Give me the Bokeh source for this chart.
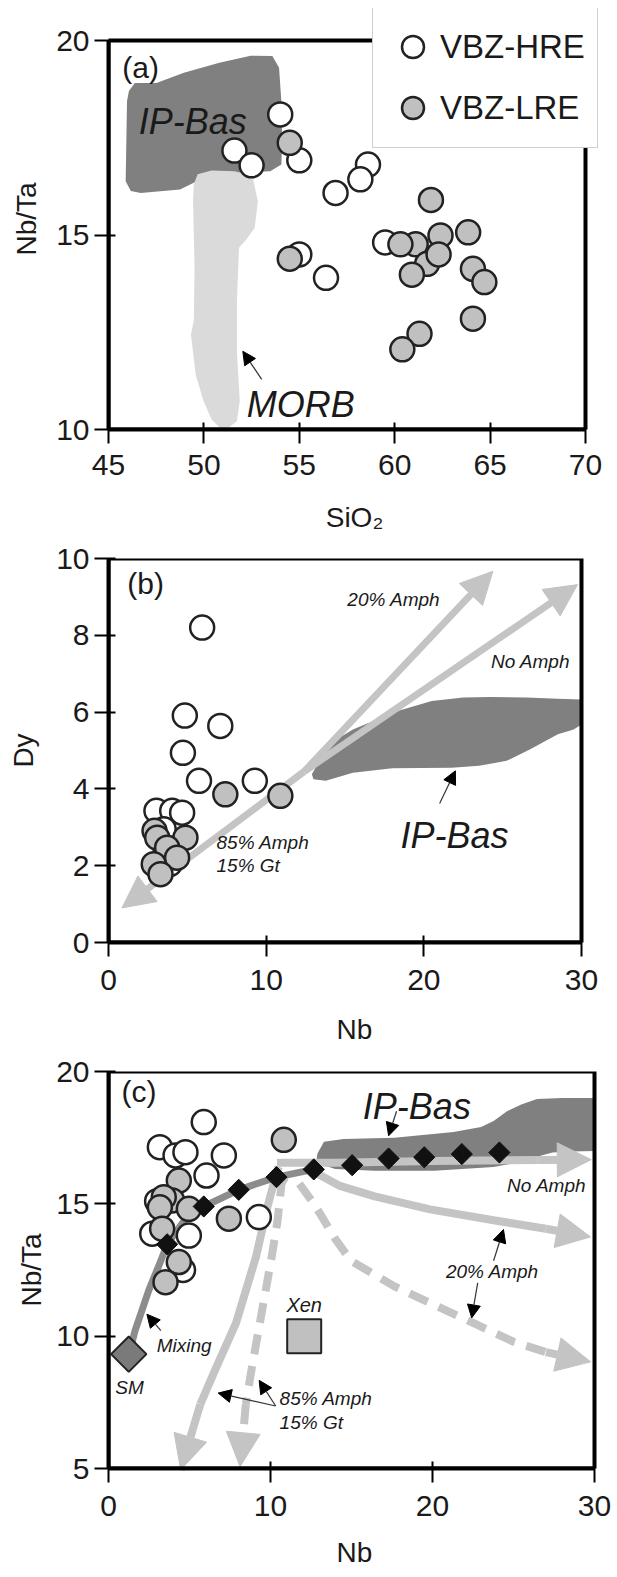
from bokeh.plotting import figure
from bokeh.models import Range1d, Legend, LegendItem, Arrow, NormalHead, FixedTicker
from bokeh.layouts import column
from bokeh.embed import file_html
from bokeh.resources import INLINE
from bokeh.core.properties import value

FONT = "Liberation Sans"
DARK = "#808080"
MORB_C = "#dadada"
LG = "#c4c4c4"
PT_GRAY = "#c0c0c0"
MIX_C = "#8c8c8c"
TXT = "#1a1a1a"

# ---------------- Panel (a) data ----------------
a_xticks = [45, 50, 55, 60, 65, 70]
a_yticks = [10, 15, 20]
a_hre_sio2 = [54.0, 51.6, 52.5, 55.0, 58.6, 58.2, 56.9, 55.0, 56.4, 59.5]
a_hre_nbta = [18.1, 17.17, 16.79, 16.92, 16.81, 16.43, 16.08, 14.5, 13.9, 14.81]
a_lre_sio2 = [54.5, 54.5, 61.9, 61.1, 61.7, 62.4, 62.3, 60.3, 60.9, 63.85, 64.1, 64.7, 64.1, 61.3, 60.4]
a_lre_nbta = [17.37, 14.39, 15.9, 14.76, 14.26, 14.99, 14.5, 14.76, 13.98, 15.07, 14.13, 13.79, 12.85, 12.46, 12.06]
a_ipbas_x = [46.07, 46.38, 47.51, 48.95, 50.81, 52.45, 53.59, 53.94, 54.06, 54.1, 54.06, 53.48, 51.63, 49.98, 49.47, 48.75, 46.69, 46.17, 45.9, 45.97]
a_ipbas_y = [18.70, 18.91, 18.91, 19.17, 19.43, 19.61, 19.60, 19.30, 18.44, 17.41, 16.81, 16.64, 16.6, 16.51, 16.34, 16.17, 16.08, 16.13, 16.38, 18.44]
a_morb_x = [49.47, 49.67, 50.40, 51.63, 52.56, 52.83, 52.66, 52.21, 51.84, 51.73, 51.73, 51.88, 51.73, 51.32, 50.81, 50.40, 49.98, 49.57, 49.32, 49.47, 49.51, 49.43]
a_morb_y = [16.30, 16.56, 16.66, 16.64, 16.47, 15.87, 15.18, 14.88, 14.67, 13.30, 12.01, 10.73, 10.21, 10.06, 10.06, 10.26, 10.73, 11.41, 12.44, 12.79, 14.16, 15.87]

# ---------------- Panel (b) data ----------------
b_xticks = [0, 10, 20, 30]
b_yticks = [0, 2, 4, 6, 8, 10]
b_hre_nb = [5.94, 4.84, 7.09, 4.72, 5.74, 9.28, 3.04, 4.04, 4.67, 3.5, 3.9, 3.6]
b_hre_dy = [8.20, 5.91, 5.64, 4.94, 4.21, 4.21, 3.43, 3.43, 3.38, 2.95, 2.05, 2.3]
b_lre_nb = [7.41, 10.9, 2.92, 3.09, 4.88, 3.72, 4.35, 2.87, 3.30]
b_lre_dy = [3.86, 3.82, 2.91, 2.73, 2.73, 2.47, 2.21, 2.04, 1.78]
b_ipbas_x = [12.9, 13.6, 14.3, 15.5, 16.8, 18.5, 20.5, 22.5, 24.2, 26.5, 28.5, 30.0, 30.0, 29.5, 28.5, 26.75, 25.25, 23.5, 21.76, 18.0, 15.5, 13.78, 13.0]
b_ipbas_y = [4.38, 4.9, 5.25, 5.55, 5.77, 6.05, 6.29, 6.38, 6.39, 6.38, 6.35, 6.33, 5.68, 5.55, 5.42, 5.03, 4.73, 4.6, 4.55, 4.54, 4.42, 4.21, 4.25]
b_gt_x = [12.4, 0.85]
b_gt_y = [4.45, 0.9]
b_amph20_x = [12.4, 24.38]
b_amph20_y = [4.45, 9.67]
b_noamph_x = [12.4, 29.75]
b_noamph_y = [4.45, 9.32]

# ---------------- Panel (c) data ----------------
c_xticks = [0, 10, 20, 30]
c_yticks = [5, 10, 15, 20]
c_hre_nb = [5.88, 3.17, 4.14, 4.75, 7.12, 6.05, 9.28, 4.96, 2.70, 4.6, 3.0]
c_hre_nbta = [18.09, 17.14, 16.83, 16.95, 16.83, 16.07, 14.5, 13.80, 13.87, 12.5, 15.1]
c_lre_nb = [10.82, 4.34, 3.93, 3.41, 3.17, 4.96, 3.31, 7.43, 4.34, 3.52]
c_lre_nbta = [17.42, 15.88, 15.13, 15.25, 14.87, 14.81, 14.06, 14.44, 12.80, 12.04]
c_model_nb = [3.62, 5.88, 8.04, 10.37, 12.67, 15.04, 17.29, 19.49, 21.81, 24.13]
c_model_nbta = [13.47, 14.9, 15.53, 16.01, 16.30, 16.46, 16.71, 16.76, 16.88, 16.94]
c_mix_nb = [1.3, 1.64, 2.49, 3.23, 3.62, 4.69, 5.88, 8.04, 10.37, 12.67]
c_mix_nbta = [9.4, 10.21, 11.74, 12.85, 13.47, 14.38, 14.9, 15.53, 16.01, 16.30]
c_sm_nb = [1.25]
c_sm_nbta = [9.32]
c_xen_nb = [12.08]
c_xen_nbta = [10.0]
c_ipbas_x = [12.9, 13.3, 14.5, 17.65, 21.3, 23.0, 23.77, 24.6, 25.48, 26.45, 28.0, 30.0, 30.0, 28.5, 27.4, 26.0, 24.99, 23.77, 20.1, 16.43, 13.99, 13.1, 12.85]
c_ipbas_y = [16.9, 17.35, 17.45, 17.5, 17.71, 17.9, 18.13, 18.5, 18.75, 18.96, 19.0, 19.0, 17.0, 16.98, 16.94, 16.7, 16.53, 16.39, 16.25, 16.25, 16.32, 16.5, 16.7]
c_noamph_x = [10.4, 14.0, 20.0, 26.5, 29.8]
c_noamph_y = [16.55, 16.55, 16.62, 16.66, 16.67]
c_amph20_x = [12.7, 14.23, 16.43, 19.85, 23.77, 27.0, 29.76]
c_amph20_y = [16.2, 15.69, 15.28, 14.79, 14.38, 14.06, 13.75]
c_amph20d_x = [11.78, 12.76, 13.99, 14.96, 17.65, 20.1, 22.54, 24.99, 27.0, 29.76]
c_amph20d_y = [15.76, 14.93, 13.68, 12.85, 11.88, 11.18, 10.49, 9.79, 9.4, 9.03]
c_gt_x = [10.5, 10.32, 9.83, 9.1, 7.87, 6.65, 5.67, 4.45]
c_gt_y = [16.4, 16.04, 14.93, 12.99, 10.49, 8.82, 7.43, 4.95]
c_gtd_x = [10.9, 10.68, 10.44, 10.07, 9.46, 8.85, 8.48, 8.12]
c_gtd_y = [16.0, 15.76, 14.38, 12.99, 10.9, 8.82, 7.43, 5.07]

W = 617
LEFT = 108          # left border shared by all panels
RIGHT = 600         # right edge of the (shared) plotting area


def make_fig(height, xticks, yticks, box_left, box_right, box_top, box_bottom, fig_top, plot_top):
    """box_*: pixel position of the drawn frame; plot_top: top of plotting area (px, page coords)."""
    ppx = (box_right - box_left) / (xticks[-1] - xticks[0])
    ppy = (box_bottom - box_top) / (yticks[-1] - yticks[0])
    x_end = xticks[-1] + (RIGHT - box_right) / ppx
    y_end = yticks[-1] + (box_top - plot_top) / ppy
    p = figure(width=W, height=height, x_range=Range1d(xticks[0], x_end),
               y_range=Range1d(yticks[0], y_end), output_backend="svg", toolbar_location=None,
               min_border_left=LEFT, min_border_right=W - RIGHT, min_border_top=plot_top - fig_top,
               min_border_bottom=fig_top + height - box_bottom)
    p.xaxis.ticker = FixedTicker(ticks=xticks)
    p.yaxis.ticker = FixedTicker(ticks=yticks)
    p.xaxis.bounds = (xticks[0], xticks[-1])
    p.yaxis.bounds = (yticks[0], yticks[-1])
    p.xgrid.visible = False
    p.ygrid.visible = False
    p.outline_line_color = None
    p.background_fill_color = "white"
    p.border_fill_color = "white"
    for ax in p.axis:
        ax.axis_line_width = 4
        ax.axis_line_color = "black"
        ax.major_tick_line_width = 2
        ax.major_tick_line_color = "black"
        ax.major_tick_out = 14
        ax.major_tick_in = 7
        ax.minor_tick_line_color = None
        ax.major_label_text_font = FONT
        ax.major_label_text_font_size = "30px"
        ax.major_label_text_color = TXT
        ax.axis_label_text_font = FONT
        ax.axis_label_text_font_size = "28px"
        ax.axis_label_text_font_style = "normal"
        ax.axis_label_text_color = TXT
    p.yaxis.major_label_standoff = 5
    # the panel frame, drawn over the tick span
    p.quad(left=[xticks[0]], right=[xticks[-1]], bottom=[yticks[0]], top=[yticks[-1]],
           fill_color=None, line_color="black", line_width=4, line_join="miter")
    return p


def labels(p, xlabel, ylabel, xl_stand, xa_stand, ya_stand):
    p.xaxis.axis_label = xlabel
    p.yaxis.axis_label = ylabel
    p.xaxis.major_label_standoff = xl_stand
    p.xaxis.axis_label_standoff = xa_stand
    p.yaxis.axis_label_standoff = ya_stand


def txt(p, x, y, s, size, italic=True, align="left", baseline="middle"):
    p.text(x=[x], y=[y], text=[s], text_font=value(FONT), text_font_size=size,
           text_font_style="italic" if italic else "normal", text_color=TXT,
           text_align=align, text_baseline=baseline)


def black_arrow(p, x0, y0, x1, y1):
    p.add_layout(Arrow(end=NormalHead(size=13, fill_color="black", line_color="black", line_width=1),
                       x_start=x0, y_start=y0, x_end=x1, y_end=y1,
                       line_color="#333333", line_width=1.2))


def gray_arrow(p, xs, ys, dash="solid", w=8, size=34):
    if len(xs) > 2:
        p.line(xs[:-1], ys[:-1], line_color=LG, line_width=w, line_dash=dash,
               line_join="round", level="underlay")
    p.add_layout(Arrow(end=NormalHead(size=size, fill_color=LG, line_color=LG, line_width=1),
                       x_start=xs[-2], y_start=ys[-2], x_end=xs[-1], y_end=ys[-1],
                       line_color=LG, line_width=w, line_dash=dash, level="underlay"))


def points(p, hx, hy, lx, ly):
    r1 = p.scatter(hx, hy, size=24, fill_color="white", line_color="#222222", line_width=2.5)
    r2 = p.scatter(lx, ly, size=24, fill_color=PT_GRAY, line_color="#222222", line_width=2.5)
    return r1, r2


HA, HB = 541, 513
HC = 1577 - HA - HB

# ---------------- Figure (a) ----------------
pa = make_fig(HA, a_xticks, a_yticks, LEFT, 585, 40, 429, 0, 8)
labels(pa, "SiO₂", "Nb/Ta", 11, 24, 11)
pa.patch(a_ipbas_x, a_ipbas_y, fill_color=DARK, line_color=None, level="image")
pa.patch(a_morb_x, a_morb_y, fill_color=MORB_C, line_color=None, level="image")
ra1, ra2 = points(pa, a_hre_sio2, a_hre_nbta, a_lre_sio2, a_lre_nbta)
txt(pa, 46.68, 19.31, "(a)", "30px", italic=False, align="center")
txt(pa, 46.59, 17.91, "IP-Bas", "36px", baseline="alphabetic")
txt(pa, 52.25, 10.63, "MORB", "36px", baseline="alphabetic")
black_arrow(pa, 53.03, 11.29, 52.04, 12.01)
legend = Legend(items=[LegendItem(label="VBZ-HRE", renderers=[ra1]),
                       LegendItem(label="VBZ-LRE", renderers=[ra2])],
                location=(372 - LEFT, 429 - 148), glyph_width=55, glyph_height=55,
                label_standoff=0, spacing=6, padding=12, margin=0,
                border_line_color="#a0a0a0", border_line_width=1.5,
                background_fill_color="white", background_fill_alpha=1,
                label_text_font=FONT, label_text_font_size="33px", label_text_color=TXT)
pa.add_layout(legend)

# ---------------- Figure (b) ----------------
pb = make_fig(HB, b_xticks, b_yticks, LEFT, 581, 558, 942, HA, 558)
labels(pb, "Nb", "Dy", 13, 21, 14)
pb.patch(b_ipbas_x, b_ipbas_y, fill_color=DARK, line_color=None, level="image")
gray_arrow(pb, b_gt_x, b_gt_y, w=7, size=32)
gray_arrow(pb, b_amph20_x, b_amph20_y, w=7, size=32)
gray_arrow(pb, b_noamph_x, b_noamph_y, w=7, size=32)
points(pb, b_hre_nb, b_hre_dy, b_lre_nb, b_lre_dy)
txt(pb, 2.35, 9.36, "(b)", "30px", italic=False, align="center")
txt(pb, 15.15, 8.93, "20% Amph", "19px")
txt(pb, 24.26, 7.33, "No Amph", "19px")
txt(pb, 6.85, 2.60, "85% Amph", "19px")
txt(pb, 6.85, 2.00, "15% Gt", "19px")
txt(pb, 18.52, 2.78, "IP-Bas", "36px", baseline="alphabetic")
black_arrow(pb, 21.0, 3.62, 22.0, 4.47)

# ---------------- Figure (c) ----------------
pc = make_fig(HC, c_xticks, c_yticks, LEFT, 594, 1071, 1468, HA + HB, 1071)
labels(pc, "Nb", "Nb/Ta", 13, 18, 6)
pc.patch(c_ipbas_x, c_ipbas_y, fill_color=DARK, line_color=None, level="image")
gray_arrow(pc, c_noamph_x, c_noamph_y)
gray_arrow(pc, c_amph20_x, c_amph20_y)
gray_arrow(pc, c_amph20d_x, c_amph20d_y, dash="20 12")
gray_arrow(pc, c_gt_x, c_gt_y)
gray_arrow(pc, c_gtd_x, c_gtd_y, dash="20 12")
pc.line(c_mix_nb, c_mix_nbta, line_color=MIX_C, line_width=7, line_join="round", level="underlay")
points(pc, c_hre_nb, c_hre_nbta, c_lre_nb, c_lre_nbta)
pc.scatter(c_model_nb, c_model_nbta, marker="square", angle=0.785398, size=15,
           fill_color="#111111", line_color="#111111", line_width=1)
pc.scatter(c_sm_nb, c_sm_nbta, marker="square", angle=0.785398, size=25,
           fill_color="#7a7a7a", line_color="#222222", line_width=2)
pc.scatter(c_xen_nb, c_xen_nbta, marker="square", size=34,
           fill_color=PT_GRAY, line_color="#222222", line_width=2)
txt(pc, 1.88, 19.24, "(c)", "30px", italic=False, align="center")
txt(pc, 15.7, 18.68, "IP-Bas", "36px", baseline="alphabetic")
black_arrow(pc, 17.78, 18.5, 17.29, 17.57)
txt(pc, 24.6, 15.69, "No Amph", "19px")
txt(pc, 20.83, 12.43, "20% Amph", "19px")
black_arrow(pc, 23.77, 12.85, 24.38, 14.03)
black_arrow(pc, 22.79, 12.01, 22.42, 10.69)
txt(pc, 12.08, 11.18, "Xen", "20px", align="center")
txt(pc, 2.98, 9.65, "Mixing", "19px")
black_arrow(pc, 3.23, 10.21, 2.37, 10.83)
txt(pc, 0.42, 8.06, "SM", "19px")
txt(pc, 10.56, 7.64, "85% Amph", "19px")
txt(pc, 10.56, 6.74, "15% Gt", "19px")
black_arrow(pc, 10.32, 7.36, 6.77, 7.85)
black_arrow(pc, 10.32, 7.36, 9.3, 8.33)

layout = column(pa, pb, pc, spacing=0)
open("out.html", "w").write(file_html(layout, INLINE))
